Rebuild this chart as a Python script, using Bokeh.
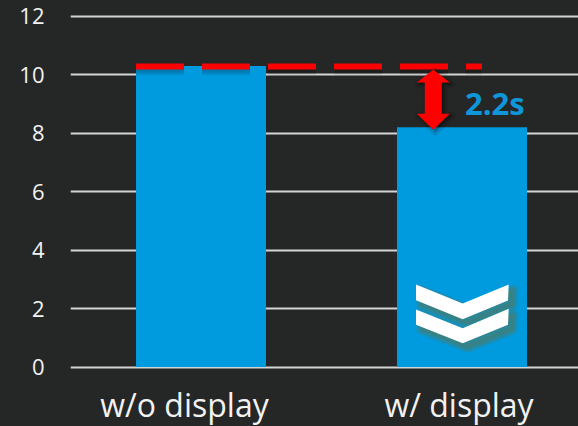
from bokeh.plotting import figure
from bokeh.embed import file_html
from bokeh.resources import INLINE
from bokeh.core.properties import value
from bokeh.models import FixedTicker, InlineStyleSheet, Range1d

categories = ["w/o display", "w/ display"]
times = [10.29, 8.2]
baseline_time = 10.27
diff_label = "2.2s"
y_ticks = [0, 2, 4, 6, 8, 10, 12]

BG = "#252626"
BLUE = "#009ADE"
RED = "#FF0000"
W, H = 578, 426
PX_X0, PX_DX = 201.0, 261.0
PX_Y0, PX_DY = 367.5, 29.25


def dx(px):
    return (px - PX_X0) / PX_DX


def dy(px):
    return (PX_Y0 - px) / PX_DY


p = figure(width=W, height=H, output_backend="svg", toolbar_location=None,
           x_range=Range1d(dx(70.5), dx(578.5)), y_range=Range1d(dy(427), dy(1)),
           min_border_left=70, min_border_right=0, min_border_top=0, min_border_bottom=0,
           background_fill_color=None, border_fill_color=None)
p.stylesheets = [InlineStyleSheet(css=":host{position:fixed !important;left:0;top:0;background:%s;}" % BG)]
p.outline_line_color = None
p.xaxis.visible = False
p.xgrid.visible = False

ax = p.yaxis[0]
ax.ticker = FixedTicker(ticks=y_ticks)
ax.axis_line_color = None
ax.major_tick_line_color = None
ax.minor_tick_line_color = None
ax.major_tick_in = 0
ax.major_tick_out = 0
ax.major_label_standoff = 26
ax.major_label_text_font = "Open Sans"
ax.major_label_text_font_size = "22px"
ax.major_label_text_color = "#f2f2f2"

g = p.ygrid[0]
g.ticker = FixedTicker(ticks=y_ticks)
g.grid_line_color = "#d4d4d4"
g.grid_line_width = 2

# Bars
p.vbar(x=[0, 1], top=times, bottom=0, width=130 / PX_DX, fill_color=BLUE, line_color=None)


def soft_patch(xs, ys, color, off, widths, alpha):
    for w in widths:
        p.patch([dx(a + off) for a in xs], [dy(b + off) for b in ys],
                fill_color=color, fill_alpha=alpha, line_color=color, line_alpha=alpha,
                line_width=w, line_join="round")


# Baseline shadow and dashed reference
dash_x = [dx(136), dx(482)]
for w, a in ((12, 0.05), (9, 0.07), (6, 0.09)):
    p.line(dash_x, [baseline_time - 3 / PX_DY] * 2, line_color="#000000", line_alpha=a,
           line_width=w, line_dash="48 18", line_cap="butt")
p.line(dash_x, [baseline_time] * 2, line_color=RED, line_width=6, line_dash="48 18", line_cap="butt")

# Double arrow between the two bar tops
ax_c = 433.3
top_px = PX_Y0 - baseline_time * PX_DY + 3
bot_px = PX_Y0 - times[1] * PX_DY + 2.5
arrow_x = [ax_c, ax_c + 16.5, ax_c + 8.5, ax_c + 8.5, ax_c + 16.5, ax_c,
           ax_c - 16.5, ax_c - 8.5, ax_c - 8.5, ax_c - 16.5]
arrow_y = [top_px, top_px + 13, top_px + 13, bot_px - 16, bot_px - 16, bot_px,
           bot_px - 16, bot_px - 16, top_px + 13, top_px + 13]
soft_patch(arrow_x, arrow_y, "#000000", 2, (8, 5, 2), 0.07)
p.patch([dx(a) for a in arrow_x], [dy(b) for b in arrow_y], fill_color=RED, line_color=None)

p.text(x=[dx(465)], y=[dy(103)], text=[diff_label], text_font=value("Open Sans"),
       text_font_style="bold", text_font_size="31px", text_color="#0F96D8",
       text_align="left", text_baseline="middle")

# Chevron badge
upper_x = [416, 462.7, 508.7, 508, 462.7, 416]
upper_y = [285, 304, 285, 301, 319.7, 300.7]
lower_x = [416, 462.7, 508.7, 508, 462.7, 416]
lower_y = [310, 328.7, 309.3, 325.3, 343.7, 325.3]
for xs, ys in ((upper_x, upper_y), (lower_x, lower_y)):
    soft_patch(xs, ys, "#3F7F78", 5, (9, 6, 3), 0.33)
for xs, ys in ((upper_x, upper_y), (lower_x, lower_y)):
    p.patch([dx(a) for a in xs], [dy(b) for b in ys], fill_color="#FFFFFF", line_color=None)

# Category labels
p.text(x=[dx(184.5), dx(459)], y=[dy(405)] * 2, text=categories, text_font=value("Open Sans"),
       text_font_size="32px", text_color="#f2f2f2", text_align="center", text_baseline="middle")

open("out.html", "w").write(file_html(p, INLINE))
